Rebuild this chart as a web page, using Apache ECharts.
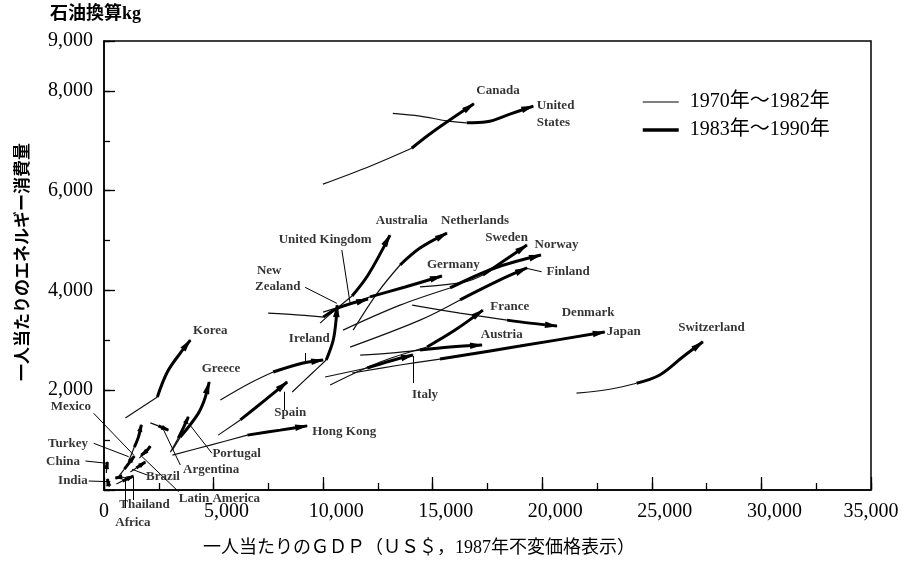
<!DOCTYPE html>
<html><head><meta charset="utf-8">
<script src="https://cdn.jsdelivr.net/npm/echarts/dist/echarts.min.js"></script>
<style>html,body{margin:0;padding:0;background:#fff}#c{width:909px;height:565px}</style>
</head><body><div id="c"></div>
<script>
// ---- data: [GDP per capita (US$ 1987), energy per capita (kg oil eq.)] ----
const CANADA_70_82 = [[9990,6130],[12140,6490],[14040,6850]];
const CANADA_83_90 = [[14040,6850],[15010,7180],[16880,7740]];
const US_70_82 = [[13180,7550],[14420,7495],[15640,7400],[16550,7360]];
const US_83_90 = [[16550,7360],[17460,7380],[18520,7535],[19590,7695]];
const SWITZERLAND_70_82 = [[21560,1940],[23080,2020],[24300,2140]];
const SWITZERLAND_83_90 = [[24300,2140],[25360,2305],[26420,2670],[27330,2970]];
const JAPAN_70_82 = [[11320,2345],[13510,2505],[15330,2625]];
const JAPAN_83_90 = [[15330,2625],[18980,2885],[22850,3165]];
const AUSTRALIA_70_82 = [[9860,3345],[10640,3645],[11320,3890]];
const AUSTRALIA_83_90 = [[11320,3890],[12050,4310],[13050,5110]];
const NETHERLANDS_70_82 = [[11370,3205],[12510,3970],[13510,4510]];
const NETHERLANDS_83_90 = [[13510,4510],[14420,4850],[15650,5150]];
const GERMANY_70_82 = [[10000,3565],[11000,3705],[12140,3870]];
const GERMANY_83_90 = [[12140,3870],[13740,4070],[15420,4290]];
const UK_70_82 = [[7490,3545],[8950,3505],[10000,3465]];
const UK_83_90 = [[10000,3465],[10780,3665],[12050,3830]];
const NZ_70_82 = [[8590,1965],[9410,2305],[10140,2605]];
const NZ_83_90 = [[10140,2605],[10460,3005],[10590,3405],[10640,3705]];
const IRELAND_70_82 = [[5310,1805],[6670,2145],[7720,2365]];
const IRELAND_83_90 = [[7720,2365],[9090,2545],[10000,2605]];
const SPAIN_70_82 = [[5210,1100],[6220,1405]];
const SPAIN_83_90 = [[6220,1405],[7360,1805],[8360,2165]];
const HONGKONG_70_82 = [[3120,700],[4850,900],[6540,1100]];
const HONGKONG_83_90 = [[6540,1100],[8040,1200],[9270,1285]];
const KOREA_70_82 = [[975,1445],[2435,1865]];
const KOREA_83_90 = [[2435,1865],[2890,2365],[3480,2745],[3940,3005]];
const GREECE_70_82 = [[3120,800],[3480,1060]];
const GREECE_83_90 = [[3480,1060],[4260,1505],[4580,1805],[4800,2165]];
const PORTUGAL_70_82 = [[3030,760],[3390,1040]];
const PORTUGAL_83_90 = [[3390,1040],[3620,1245],[3850,1465]];
const ARGENTINA_70_82 = [[2115,1345],[2480,1285]];
const ARGENTINA_83_90 = [[2480,1285],[2935,1200]];
const MEXICO_70_82 = [[1110,560],[1385,860]];
const MEXICO_83_90 = [[1385,860],[1570,1060],[1705,1305]];
const TURKEY_70_82 = [[610,240],[930,420]];
const TURKEY_83_90 = [[930,420],[1385,680]];
const BRAZIL_70_82 = [[1205,360],[1475,440]];
const BRAZIL_83_90 = [[1475,440],[1885,560]];
const LATAM_70_82 = [[1615,640],[2115,880]];
const LATAM_83_90 = [[2115,880],[1935,780],[1705,700]];
const CHINA_70_82 = [[110,340],[110,420]];
const CHINA_83_90 = [[110,420],[155,560]];
const INDIA_70_82 = [[245,60],[200,120]];
const INDIA_83_90 = [[200,120],[155,220]];
const AFRICA_70_82 = [[1020,240],[795,260]];
const AFRICA_83_90 = [[795,260],[520,240]];
const THAILAND_70_82 = [[565,120],[840,180]];
const THAILAND_83_90 = [[840,180],[1340,280]];
const SWEDEN_70_82 = [[14420,4070],[16470,4170],[17290,4310]];
const SWEDEN_83_90 = [[17290,4310],[18300,4610],[19300,4910]];
const NORWAY_70_82 = [[10910,3205],[13510,3705],[15790,4050]];
const NORWAY_83_90 = [[15790,4050],[17840,4450],[19940,4710]];
const FINLAND_70_82 = [[11230,2865],[14420,3405],[16245,3810]];
const FINLAND_83_90 = [[16245,3810],[18070,4210],[19300,4450]];
const DENMARK_70_82 = [[14060,3705],[16245,3545],[18390,3405]];
const DENMARK_83_90 = [[18390,3405],[19435,3345],[20670,3285]];
const FRANCE_70_82 = [[10320,2104],[12600,2565],[14740,2866]];
const FRANCE_83_90 = [[14740,2866],[16020,3205],[17290,3605]];
const AUSTRIA_70_82 = [[11690,2705],[13060,2745],[14420,2805]];
const AUSTRIA_83_90 = [[14420,2805],[15790,2865],[17250,2905]];
const ITALY_70_82 = [[10090,2265],[12010,2445]];
const ITALY_83_90 = [[12010,2445],[13060,2585],[14100,2705]];

const TRAJ = [
  ['Canada', CANADA_70_82, CANADA_83_90], ['United States', US_70_82, US_83_90],
  ['Switzerland', SWITZERLAND_70_82, SWITZERLAND_83_90], ['Japan', JAPAN_70_82, JAPAN_83_90],
  ['Australia', AUSTRALIA_70_82, AUSTRALIA_83_90], ['Netherlands', NETHERLANDS_70_82, NETHERLANDS_83_90],
  ['Germany', GERMANY_70_82, GERMANY_83_90], ['United Kingdom', UK_70_82, UK_83_90],
  ['New Zealand', NZ_70_82, NZ_83_90], ['Ireland', IRELAND_70_82, IRELAND_83_90],
  ['Spain', SPAIN_70_82, SPAIN_83_90], ['Hong Kong', HONGKONG_70_82, HONGKONG_83_90],
  ['Korea', KOREA_70_82, KOREA_83_90], ['Greece', GREECE_70_82, GREECE_83_90],
  ['Portugal', PORTUGAL_70_82, PORTUGAL_83_90], ['Argentina', ARGENTINA_70_82, ARGENTINA_83_90],
  ['Mexico', MEXICO_70_82, MEXICO_83_90], ['Turkey', TURKEY_70_82, TURKEY_83_90],
  ['Brazil', BRAZIL_70_82, BRAZIL_83_90], ['Latin America', LATAM_70_82, LATAM_83_90],
  ['China', CHINA_70_82, CHINA_83_90], ['India', INDIA_70_82, INDIA_83_90],
  ['Africa', AFRICA_70_82, AFRICA_83_90], ['Thailand', THAILAND_70_82, THAILAND_83_90],
  ['Sweden', SWEDEN_70_82, SWEDEN_83_90], ['Norway', NORWAY_70_82, NORWAY_83_90],
  ['Finland', FINLAND_70_82, FINLAND_83_90], ['Denmark', DENMARK_70_82, DENMARK_83_90],
  ['France', FRANCE_70_82, FRANCE_83_90], ['Austria', AUSTRIA_70_82, AUSTRIA_83_90],
  ['Italy', ITALY_70_82, ITALY_83_90]
];

// label anchors (data units)
const LABELS = [
  ['Canada', 17980, 8000], ['United\nStates', 19750, 7525, 'left'],
  ['Australia', 13590, 5400], ['Netherlands', 16930, 5400],
  ['United Kingdom', 10090, 5010], ['Sweden', 18370, 5065], ['Norway', 20650, 4910],
  ['Germany', 15940, 4510], ['Finland', 21180, 4375], ['New', 7540, 4390], ['Zealand', 7930, 4070],
  ['France', 18520, 3675], ['Denmark', 22090, 3555], ['Ireland', 9370, 3030], ['Austria', 18150, 3105],
  ['Japan', 23720, 3165], ['Switzerland', 27720, 3250], ['Korea', 4850, 3190], ['Greece', 5340, 2440],
  ['Italy', 14650, 1905], ['Spain', 8500, 1550], ['Hong Kong', 10960, 1160],
  ['Mexico', -1510, 1670], ['Turkey', -1645, 935], ['China', -1870, 565], ['India', -1420, 180],
  ['Portugal', 6050, 720], ['Argentina', 4890, 415], ['Brazil', 2690, 265],
  ['Thailand', 1850, -300], ['Africa', 1320, -655], ['Latin America', 5270, -165]
];
// leader lines (data units)
const LEADERS = [
  [[-470,1537],[1354,701]], [[-470,936],[1126,667]], [[-848,581],[141,535]], [[-697,180],[292,166]],
  [[1354,-200],[1354,267]], [[975,-361],[975,261]], [[1965,301],[1281,415]], [[3405,-34],[1659,701]],
  [[3482,501],[2721,1202]], [[4927,735],[3861,1337]], [[8236,1603],[8236,1970]], [[9180,2745],[9180,2545]],
  [[9180,4062],[10625,3741]], [[10853,4810],[11231,3741]], [[19285,4443],[19968,4375]], [[14103,2144],[14103,2685]]
];

const THIN = '1970年～1982年', THICK = '1983年～1990年';
const fmt = v => String(v).replace(/\B(?=(\d{3})+(?!\d))/g, ',');
const SERIF = '"Liberation Serif","Noto Sans CJK JP"';

const series = [];
TRAJ.forEach(t => {
  series.push({ name: THIN, type: 'line', data: t[1], smooth: 0.35, symbol: 'none', silent: true,
    itemStyle: { color: '#000' }, lineStyle: { color: '#111', width: 1.2 }, z: 2 });
  series.push({ name: THICK, type: 'line', data: t[2], smooth: 0.35, symbol: 'none', silent: true,
    itemStyle: { color: '#000' }, lineStyle: { color: '#000', width: 3 }, z: 3 });
});
series.push({
  type: 'custom', silent: true, z: 4,
  data: TRAJ.map(t => t[2][t[2].length - 1]),
  renderItem(params, api) {
    const seg = TRAJ[params.dataIndex][2];
    const pts = seg.map(p => api.coord(p));
    let total = 0;
    for (let i = 1; i < pts.length; i++) total += Math.hypot(pts[i][0] - pts[i-1][0], pts[i][1] - pts[i-1][1]);
    const q = pts[pts.length - 1], p = pts[pts.length - 2];
    const dx = q[0] - p[0], dy = q[1] - p[1], L = Math.hypot(dx, dy) || 1;
    const ux = dx / L, uy = dy / L;
    const len = total < 30 ? 7 : 12, hw = total < 30 ? 2.6 : 3.3;
    const bx = q[0] - ux * len, by = q[1] - uy * len;
    return { type: 'polygon', shape: { points: [[q[0] + ux, q[1] + uy], [bx - uy * hw, by + ux * hw], [bx + uy * hw, by - ux * hw]] },
      style: { fill: '#000' } };
  }
});
series.push({
  type: 'lines', coordinateSystem: 'cartesian2d', silent: true, clip: false, z: 2,
  lineStyle: { color: '#000', width: 1, opacity: 1 },
  data: LEADERS.map(c => ({ coords: c }))
});
series.push({
  type: 'scatter', silent: true, clip: false, symbolSize: 1, itemStyle: { color: 'rgba(0,0,0,0)' }, z: 5,
  data: LABELS.map(l => ({ value: [l[1], l[2]], name: l[0], label: l[3] ? { align: l[3] } : undefined })),
  label: { show: true, position: 'inside', formatter: '{b}', color: '#000', fontFamily: 'Liberation Serif',
    fontWeight: 'bold', fontSize: 13, lineHeight: 17 }
});

const chart = echarts.init(document.getElementById('c'));
chart.setOption({
  animation: false,
  backgroundColor: '#fff',
  grid: { left: 104, right: 38, top: 41, bottom: 75, show: true, borderColor: '#000', borderWidth: 1.5 },
  legend: {
    data: [
      { name: THIN, itemStyle: { opacity: 0 }, lineStyle: { width: 1.2, color: '#000' } },
      { name: THICK, itemStyle: { opacity: 0 }, lineStyle: { width: 3.5, color: '#000' } }
    ],
    orient: 'vertical', left: 636, top: 87, itemWidth: 36, itemHeight: 14, itemGap: 8,
    textStyle: { fontSize: 20, color: '#000', fontFamily: SERIF, padding: [0, 0, 0, 6] }, selectedMode: false
  },
  xAxis: [
    { type: 'value', min: 0, max: 35000, interval: 2500, position: 'bottom',
      axisLine: { show: true, lineStyle: { color: '#000', width: 1.5 } },
      axisTick: { show: true, inside: true, length: 7, lineStyle: { color: '#000', width: 1.3 } },
      axisLabel: { show: false }, splitLine: { show: false } },
    { type: 'value', min: 0, max: 35000, interval: 5000, position: 'bottom',
      axisLine: { show: false },
      axisTick: { show: true, inside: true, length: 13, lineStyle: { color: '#000', width: 1.3 } },
      axisLabel: { show: true, margin: 12, color: '#000', fontSize: 20, fontFamily: SERIF,
        formatter: v => (v === 0 || v === 35000) ? '{e|' + fmt(v) + '}' : '{n|' + fmt(v) + '}',
        rich: { n: { fontSize: 20, fontFamily: SERIF, color: '#000', padding: [0, 0, 0, 26] },
                e: { fontSize: 20, fontFamily: SERIF, color: '#000' } } },
      splitLine: { show: false } }
  ],
  yAxis: [
    { type: 'value', min: 0, max: 9000, interval: 1000, position: 'left',
      axisLine: { show: true, lineStyle: { color: '#000', width: 1.5 } },
      axisTick: { show: true, inside: true, length: 6, lineStyle: { color: '#000', width: 1.3 } },
      axisLabel: { show: true, margin: 11, color: '#000', fontSize: 20, fontFamily: SERIF,
        formatter: v => ([2000, 4000, 6000, 8000, 9000].includes(v) ? fmt(v) : '') },
      splitLine: { show: false } },
    { type: 'value', min: 0, max: 9000, interval: 2000, position: 'left',
      axisLine: { show: false },
      axisTick: { show: true, inside: true, length: 11, lineStyle: { color: '#000', width: 1.3 } },
      axisLabel: { show: false }, splitLine: { show: false } }
  ],
  graphic: [
    { type: 'text', left: 50, top: 5, style: { text: '石油換算kg', font: 'bold 18px "Liberation Serif","Noto Sans CJK JP"', fill: '#000' } },
    { type: 'text', x: 22, y: 262, rotation: Math.PI / 2,
      style: { text: '一人当たりのエネルギー消費量', font: 'bold 17px "Noto Sans CJK JP"', fill: '#000', align: 'center', verticalAlign: 'middle' } },
    { type: 'text', x: 419, y: 548,
      style: { text: '一人当たりのＧＤＰ（ＵＳ＄，1987年不変価格表示）', font: '18px "Liberation Serif","Noto Sans CJK JP"', fill: '#000', align: 'center', verticalAlign: 'middle' } }
  ],
  series
});
</script>
</body></html>
